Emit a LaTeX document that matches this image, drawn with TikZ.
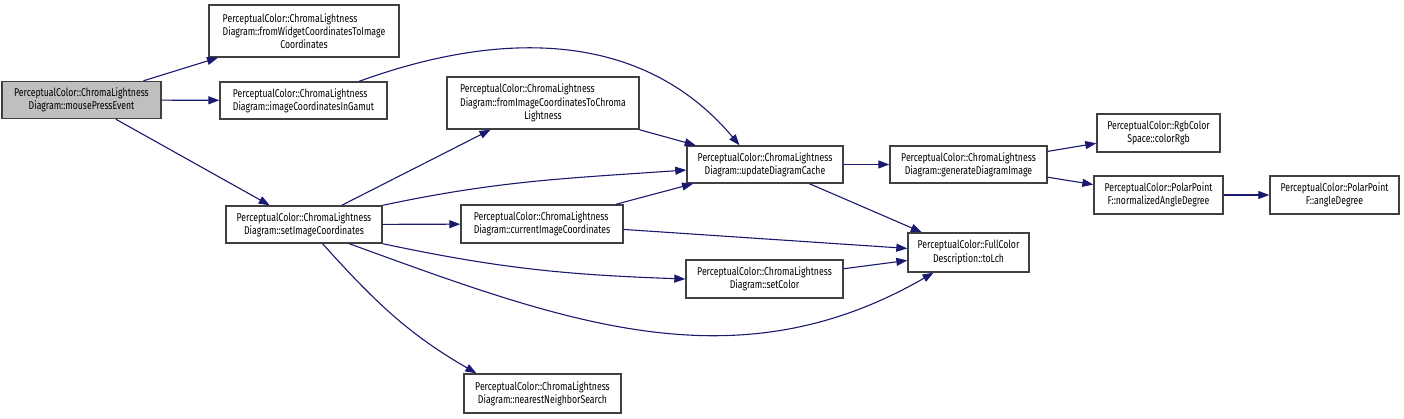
\documentclass[tikz,border=0pt]{standalone}
\usepackage{fontspec}
\setmainfont{Fira Sans}[FakeStretch=0.77]
\usepackage{tikz}
\usetikzlibrary{arrows.meta}
\definecolor{edgeblue}{HTML}{191970}
\definecolor{boxline}{HTML}{404040}
\definecolor{hilite}{HTML}{BFBFBF}
\newcommand\lblfont{\fontsize{11.3}{13.3}\selectfont}

\begin{document}
\begin{tikzpicture}[
    x=1pt, y=-1pt,
    fn/.style={draw=boxline, line width=1.4pt, fill=white, rectangle, minimum height=37pt, inner sep=2pt, font=\lblfont, align=center},
    fnl/.style={fn, align=left},
    cur/.style={fn, fill=hilite},
    call/.style={draw=edgeblue, line width=1.1pt, -{Triangle[length=11pt,width=8pt]}}
]
\useasboundingbox (0,0) rectangle (1404,419);

\node[cur, minimum width=159pt] (press) at (81.5,100) {PerceptualColor::ChromaLightness\\Diagram::mousePressEvent};
\node[fnl, minimum width=190pt, minimum height=52pt] (widget) at (304,31) {PerceptualColor::ChromaLightness\\Diagram::fromWidgetCoordinatesToImage\\\hspace*{\fill}Coordinates\hspace*{\fill}};
\node[fnl, minimum width=167pt] (gamut) at (303.5,100.5) {PerceptualColor::ChromaLightness\\Diagram::imageCoordinatesInGamut};
\node[fn, minimum width=156pt] (setimg) at (304,224.5) {PerceptualColor::ChromaLightness\\Diagram::setImageCoordinates};
\node[fnl, minimum width=192pt, minimum height=52pt] (tochroma) at (543,103) {PerceptualColor::ChromaLightness\\Diagram::fromImageCoordinatesToChroma\\\hspace*{\fill}Lightness\hspace*{\fill}};
\node[fnl, minimum width=162pt, minimum height=38pt] (current) at (542,224) {PerceptualColor::ChromaLightness\\Diagram::currentImageCoordinates};
\node[fn, minimum width=157pt, minimum height=39pt] (nearest) at (542.5,393.5) {PerceptualColor::ChromaLightness\\Diagram::nearestNeighborSearch};
\node[fn, minimum width=156pt] (update) at (765,164.5) {PerceptualColor::ChromaLightness\\Diagram::updateDiagramCache};
\node[fn, minimum width=157pt, minimum height=38pt] (setcolor) at (764.5,279) {PerceptualColor::ChromaLightness\\Diagram::setColor};
\node[fn, minimum width=157pt] (gen) at (968.5,164.5) {PerceptualColor::ChromaLightness\\Diagram::generateDiagramImage};
\node[fn, minimum width=121pt, minimum height=39pt] (tolch) at (968.5,252.5) {PerceptualColor::FullColor\\Description::toLch};
\node[fn, minimum width=123pt, minimum height=38pt] (rgb) at (1158.5,133) {PerceptualColor::RgbColor\\Space::colorRgb};
\node[fn, minimum width=129pt, minimum height=38pt] (normangle) at (1158.5,195) {PerceptualColor::PolarPoint\\F::normalizedAngleDegree};
\node[fn, minimum width=129pt, minimum height=38pt] (angle) at (1334.5,195) {PerceptualColor::PolarPoint\\F::angleDegree};

% calls from mousePressEvent
\draw[call] (press) -- (widget);
\draw[call] (press) -- (gamut);
\draw[call] (press) -- (setimg);
\draw[call] (gamut.19) to[out=20, in=130] (update.143);

% calls from setImageCoordinates
\draw[call] (setimg) -- (tochroma);
\draw[call] (setimg.north east) to[out=12, in=184] (update.184);
\draw[call] (setimg) -- (current);
\draw[call] (setimg.south east) to[out=-12, in=178] (setcolor.west);
\draw[call] (setimg.-23) to[out=-20, in=210] (tolch.210);
\draw[call] (setimg.-46) to[out=-48, in=150] (nearest.163);

\draw[call] (tochroma) -- (update);
\draw[call] (current) -- (update);
\draw[call] (current) -- (tolch);
\draw[call] (setcolor) -- (tolch);
\draw[call] (update) -- (tolch);
\draw[call] (update) -- (gen);
\draw[call] (gen) -- (rgb);
\draw[call] (gen) -- (normangle);
\draw[call] (normangle) -- (angle);
\end{tikzpicture}
\end{document}
